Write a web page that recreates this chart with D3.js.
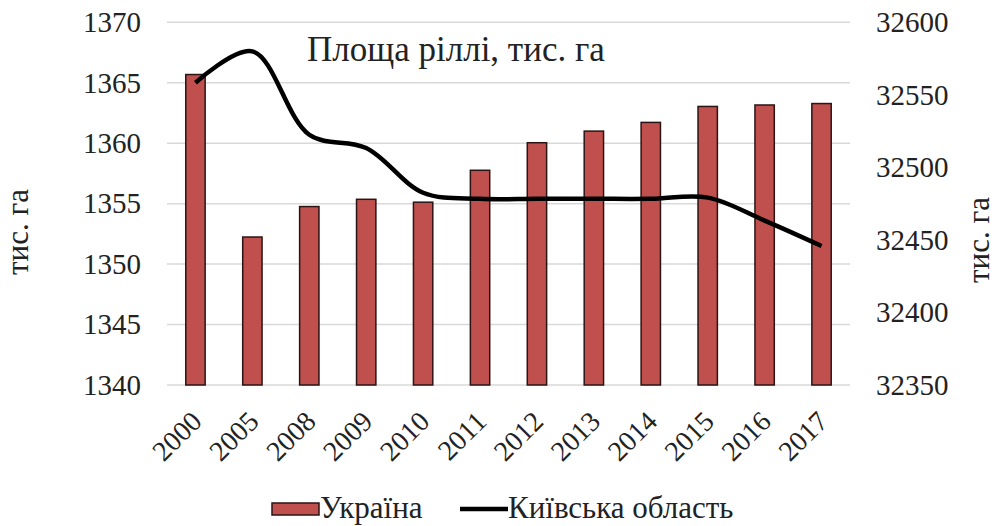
<!DOCTYPE html>
<html>
<head>
<meta charset="UTF-8" />
<title>Площа ріллі</title>
<script src="https://cdn.jsdelivr.net/npm/d3@7"></script>
<style>
  body { margin: 0; background: #fff; }
  svg text { font-family: 'Liberation Serif', 'DejaVu Serif', serif !important; fill: #222; }
</style>
</head>
<body>
<div id="chart"></div>
<script>
  // дані
  const years = ['2000', '2005', '2008', '2009', '2010', '2011', '2012', '2013', '2014', '2015', '2016', '2017'];
  const ukraine = [32564, 32452, 32473, 32478, 32476, 32498, 32517, 32525, 32531, 32542, 32543, 32544];
  const kyiv = [1365.0, 1367.6, 1360.7, 1359.6, 1355.9, 1355.4, 1355.4, 1355.4, 1355.4, 1355.5, 1353.6, 1351.5];
  const leftTicks = [1340, 1345, 1350, 1355, 1360, 1365, 1370];
  const rightTicks = [32350, 32400, 32450, 32500, 32550, 32600];

  const w = 995, h = 526;
  const plotL = 167, plotR = 850, plotT = 22.3, plotB = 385;

  const svg = d3.select('#chart').append('svg')
    .attr('width', w)
    .attr('height', h);

  const x = d3.scaleBand().domain(years).range([plotL, plotR]).padding(0);
  const yL = d3.scaleLinear().domain([1340, 1370]).range([plotB, plotT]);
  const yR = d3.scaleLinear().domain([32350, 32600]).range([plotB, plotT]);

  // сітка
  svg.append('g')
    .selectAll('line')
    .data(leftTicks)
    .enter()
    .append('line')
    .attr('x1', plotL)
    .attr('x2', plotR)
    .attr('y1', d => yL(d))
    .attr('y2', d => yL(d))
    .attr('stroke', '#d9d9d9')
    .attr('stroke-width', 1.5);

  // ліва вісь
  const axL = svg.append('g')
    .attr('transform', `translate(${plotL - 26},0)`)
    .call(d3.axisLeft(yL).tickValues(leftTicks).tickSize(0).tickPadding(0).tickFormat(d3.format('d')));
  axL.select('.domain').remove();
  axL.selectAll('text').attr('font-size', 29).attr('fill', '#222');

  // права вісь
  const axR = svg.append('g')
    .attr('transform', `translate(${plotR + 26},0)`)
    .call(d3.axisRight(yR).tickValues(rightTicks).tickSize(0).tickPadding(0).tickFormat(d3.format('d')));
  axR.select('.domain').remove();
  axR.selectAll('text').attr('font-size', 29).attr('fill', '#222');

  // стовпці — Україна
  const bw = x.bandwidth() * 0.34;
  svg.append('g')
    .selectAll('rect')
    .data(years)
    .enter()
    .append('rect')
    .attr('x', d => x(d) + x.bandwidth() / 2 - bw / 2)
    .attr('y', (d, i) => yR(ukraine[i]))
    .attr('width', bw)
    .attr('height', (d, i) => plotB - yR(ukraine[i]))
    .attr('fill', '#c0504d')
    .attr('stroke', '#2a1414')
    .attr('stroke-width', 1.5);

  // лінія — Київська область
  const line = d3.line()
    .x((d, i) => x(years[i]) + x.bandwidth() / 2)
    .y(d => yL(d))
    .curve(d3.curveCatmullRom.alpha(0.5));
  svg.append('path')
    .datum(kyiv)
    .attr('d', line)
    .attr('fill', 'none')
    .attr('stroke', '#000')
    .attr('stroke-width', 4.5)
    .attr('stroke-linejoin', 'round');

  // підписи років
  svg.append('g')
    .selectAll('text')
    .data(years)
    .enter()
    .append('text')
    .attr('transform', d => `translate(${x(d) + x.bandwidth() / 2 + 8},${plotB + 38}) rotate(-45)`)
    .attr('text-anchor', 'end')
    .attr('font-size', 28)
    .text(d => d);

  // заголовок
  svg.append('text')
    .attr('x', 307)
    .attr('y', 61)
    .attr('font-size', 35)
    .text('Площа ріллі, тис. га');

  // підписи осей
  svg.append('text')
    .attr('transform', 'translate(28,232) rotate(-90)')
    .attr('text-anchor', 'middle')
    .attr('font-size', 31)
    .text('тис. га');
  svg.append('text')
    .attr('transform', 'translate(989,240) rotate(-90)')
    .attr('text-anchor', 'middle')
    .attr('font-size', 31)
    .text('тис. га');

  // легенда
  const lg = svg.append('g');
  lg.append('rect')
    .attr('x', 272).attr('y', 503).attr('width', 47).attr('height', 12)
    .attr('fill', '#c0504d').attr('stroke', '#2a1414').attr('stroke-width', 1.5);
  lg.append('text').attr('x', 320).attr('y', 518).attr('font-size', 31).text('Україна');
  lg.append('line')
    .attr('x1', 460).attr('x2', 508).attr('y1', 509).attr('y2', 509)
    .attr('stroke', '#000').attr('stroke-width', 4.5);
  lg.append('text').attr('x', 508).attr('y', 518).attr('font-size', 31).text('Київська область');
</script>
</body>
</html>
